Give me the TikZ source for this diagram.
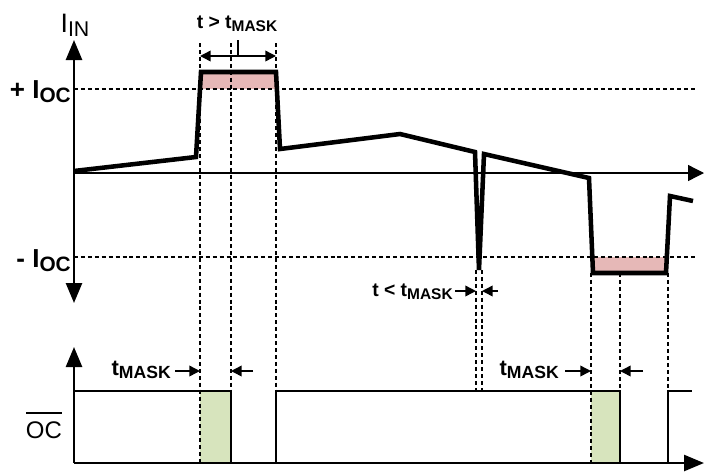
\documentclass[tikz,border=0pt]{standalone}
\usepackage{fontspec}
\setmainfont{Liberation Sans}
\usetikzlibrary{arrows.meta, positioning}

\definecolor{ocpink}{RGB}{230,184,183}
\definecolor{ocgreen}{RGB}{215,228,189}

\newcommand{\lsub}[1]{\raisebox{-0.3ex}{\scalebox{0.8}{#1}}}

\tikzset{
    wave/.style={line width=3.4pt},
    axis/.style={line width=1.9pt, -{Triangle[length=15pt, width=12pt]}},
    guide/.style={line width=0.8pt, dash pattern=on 3pt off 2.2pt},
    dim/.style={line width=1.1pt, -{Triangle[length=8pt, width=8pt]}},
    lbl/.style={font=\bfseries\fontsize{14.5}{17}\selectfont, inner sep=0pt},
    lblb/.style={font=\bfseries\fontsize{16.5}{19}\selectfont, inner sep=0pt},
    big/.style={font=\bfseries\fontsize{19.5}{22}\selectfont, inner sep=0pt}
}

\begin{document}
\begin{tikzpicture}[x=0.75pt, y=-0.75pt]
    \useasboundingbox (0,0) rectangle (704,472);

    % shaded areas
    \fill[ocpink] (200,72) rectangle (277,89);
    \fill[ocpink] (592,257) rectangle (667,273);
    \fill[ocgreen] (200,391) rectangle (231,463);
    \fill[ocgreen] (591,391) rectangle (620,463);

    % threshold lines
    \draw[guide] (74,89) -- (695,89);
    \draw[guide] (74,257) -- (695,257);

    % timing guides
    \draw[guide] (200,43) -- (200,463);
    \draw[guide] (231,43) -- (231,391);
    \draw[guide] (276,43) -- (276,391);
    \draw[guide] (476,270) -- (476,391);
    \draw[guide] (482,270) -- (482,391);
    \draw[guide] (591,273) -- (591,463);
    \draw[guide] (620,273) -- (620,391);
    \draw[guide] (668,273) -- (668,391);

    % axes
    \draw[axis, {Triangle[length=15pt, width=12pt]}-{Triangle[length=15pt, width=12pt]}] (74,303) -- (74,40);
    \draw[line width=1pt, -{Triangle[length=12pt, width=12pt]}] (74,173) -- (704,173);
    \draw[axis] (74,463) -- (74,347);
    \draw[axis] (74,463) -- (704,463);

    % input current
    \draw[wave] (74,171) -- (196,157) -- (201,72) -- (276,72) -- (280,149) -- (400,134)
        -- (475,152) -- (479,270) -- (484,154) -- (589,178) -- (593,273) -- (666,273)
        -- (670,196) -- (693,201);

    % OC output
    \draw[line width=1.8pt] (74,391) -- (231,391) -- (231,463);
    \draw[line width=1.8pt] (276,463) -- (276,391) -- (620,391) -- (620,463);
    \draw[line width=1.8pt] (668,463) -- (668,391) -- (692,391);

    % labels
    \node[font=\fontsize{20}{22}\selectfont, inner sep=0pt] (iin) at (75,25) {I\lsub{IN}};
    \node[big, anchor=east] (ocp) at (71,92) {+ I\lsub{OC}};
    \node[big, anchor=east] (ocn) at (71,261) {- I\lsub{OC}};
    \node[font=\fontsize{18}{20}\selectfont, inner sep=0pt] (oc) at (44,430) {OC};
    \draw[line width=1.3pt] (26,413) -- (62,413);

    % mask intervals
    \node[lbl] (tgt) at (237,24) {t > t\lsub{MASK}};
    \draw[line width=1.1pt, {Triangle[length=8pt, width=8pt]}-{Triangle[length=8pt, width=8pt]}] (200,56) -- (276,56);
    \draw[line width=1.1pt] (238,40) -- (238,56);

    \node[lbl, anchor=east] (tlt) at (453,292) {t < t\lsub{MASK}};
    \draw[dim] (455,291) -- (476,291);
    \draw[dim] (498,291) -- (482,291);

    \node[lblb, anchor=east] (tm1) at (171,370) {t\lsub{MASK}};
    \draw[dim] (175,371) -- (200,371);
    \draw[dim] (253,371) -- (231,371);

    \node[lblb, anchor=east] (tm2) at (559,370) {t\lsub{MASK}};
    \draw[dim] (565,371) -- (591,371);
    \draw[dim] (643,371) -- (620,371);
\end{tikzpicture}
\end{document}
